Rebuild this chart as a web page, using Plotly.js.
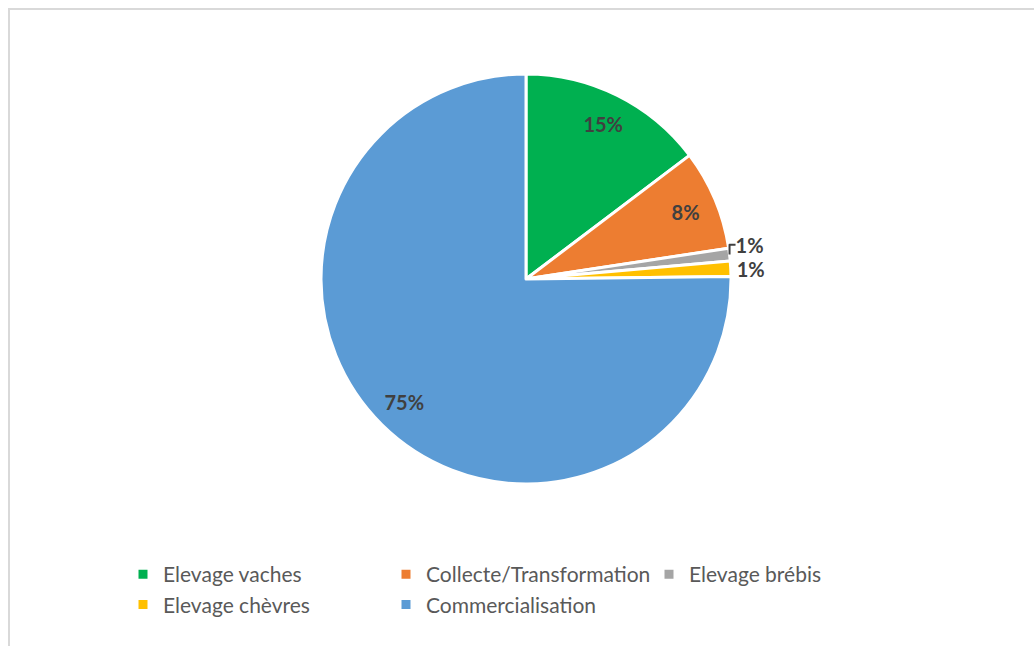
<!DOCTYPE html>
<html>
<head>
<meta charset="utf-8">
<script src="https://cdn.plot.ly/plotly-3.0.1.min.js"></script>
<style>
html,body{margin:0;padding:0;background:#fff;}
#frame{position:absolute;left:8px;top:8px;width:1040px;height:650px;border-top:2px solid #d9d9d9;border-left:2px solid #d9d9d9;}
#chart{position:absolute;left:0;top:0;width:1034px;height:646px;}
</style>
</head>
<body>
<div id="frame"></div>
<div id="chart"></div>
<script>
const categories = ["Elevage vaches", "Collecte/Transformation", "Elevage brébis", "Elevage chèvres", "Commercialisation"];
const values = [14.7, 7.9, 1.0, 1.2, 75.2];
const colors = ["#00b050", "#ed7d31", "#a5a5a5", "#ffc000", "#5b9bd5"];
// which slices carry their label outside the pie
const outsideLabel = [false, false, true, true, false];

const W = 1034, H = 646;
const pct = "%{percent:.0%}";
const domain = {x: [321 / W, 731 / W], y: [(H - 484) / H, (H - 74) / H]};
const labelFont = {family: "Lato, 'Open Sans', sans-serif", size: 20, color: "#404040", weight: 700};

// main pie: colours, legend, outside labels for the thin slices
const mainPie = {
  type: "pie",
  labels: categories,
  values: values,
  sort: false,
  direction: "clockwise",
  rotation: 0,
  marker: {colors: colors, line: {color: "#ffffff", width: 3}},
  texttemplate: outsideLabel.map(o => o ? pct : ""),
  textposition: outsideLabel.map(o => o ? "outside" : "none"),
  outsidetextfont: labelFont,
  textfont: labelFont,
  automargin: false,
  domain: domain
};

// transparent ring over the outer part of the pie, used only to place inside labels near the rim
const labelRing = {
  type: "pie",
  labels: categories,
  values: values,
  sort: false,
  direction: "clockwise",
  rotation: 0,
  hole: 0.69,
  showlegend: false,
  marker: {colors: categories.map(() => "rgba(0,0,0,0)"), line: {width: 0}},
  texttemplate: outsideLabel.map(o => o ? "" : pct),
  textposition: outsideLabel.map(o => o ? "none" : "inside"),
  insidetextorientation: "horizontal",
  insidetextfont: labelFont,
  textfont: labelFont,
  automargin: false,
  domain: domain
};

const layout = {
  width: W, height: H,
  margin: {l: 0, r: 0, t: 0, b: 0},
  paper_bgcolor: "rgba(0,0,0,0)",
  plot_bgcolor: "rgba(0,0,0,0)",
  showlegend: true,
  legend: {
    orientation: "h",
    x: 123 / W, xanchor: "left",
    y: (H - 554) / H, yanchor: "top",
    entrywidth: 218, entrywidthmode: "pixels",
    itemwidth: 30,
    traceorder: "normal",
    font: {family: "Lato, 'Open Sans', sans-serif", size: 21, color: "#595959"}
  }
};

Plotly.newPlot("chart", [mainPie, labelRing], layout, {displayModeBar: false, staticPlot: true});
</script>
</body>
</html>
